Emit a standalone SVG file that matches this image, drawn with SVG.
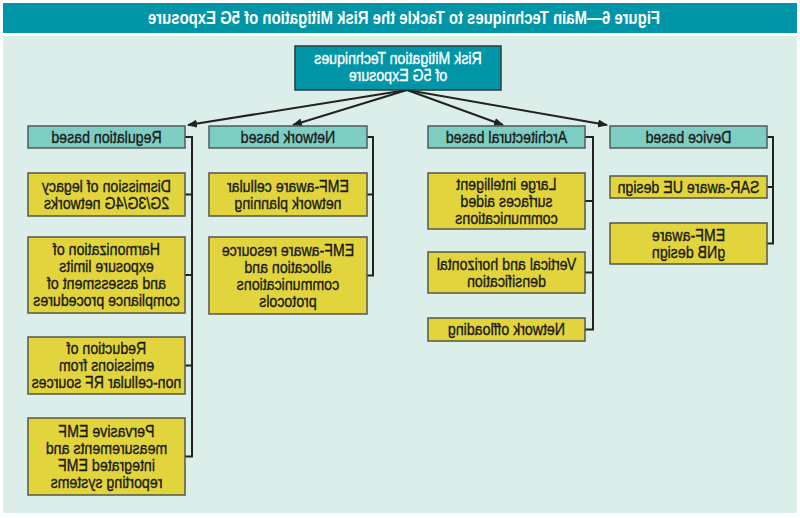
<svg xmlns="http://www.w3.org/2000/svg" width="800" height="518" viewBox="0 0 800 518">
<style>
text{font-family:"Liberation Sans",Arial,sans-serif;font-size:16.5px;text-anchor:middle;fill:#1a1a1a;stroke:#1a1a1a;stroke-width:0.35;transform-box:fill-box;transform-origin:center;transform:scaleX(0.86)}
.title{font-weight:bold;font-size:19px;fill:#ffffff;stroke:none;transform:none}
.root rect{fill:#0096a8;stroke:#2b3a3c;stroke-width:1.5}
.root text{fill:#ffffff;stroke:#ffffff}
.cat rect{fill:#7dcdc2;stroke:#4d5c5c;stroke-width:1.5}
.sub rect{fill:#e2d43c;stroke:#55574a;stroke-width:1.5}
.conn path{fill:none;stroke:#222222;stroke-width:2}
</style>
<defs>
<marker id="ah" markerWidth="10" markerHeight="8" refX="9" refY="4" orient="auto" markerUnits="userSpaceOnUse">
<path d="M0,0 L10,4 L0,8 z" fill="#222222"/>
</marker>
</defs>
<rect x="0" y="0" width="800" height="518" fill="#ffffff"/>
<g transform="matrix(-1 0 0 1 800 0)">
<rect x="3" y="3" width="794" height="30" fill="#0096a8"/>
<rect x="3" y="36" width="794" height="477" fill="#dceee9"/>
<text class="title" x="396" y="24" textLength="512" lengthAdjust="spacingAndGlyphs">Figure 6—Main Techniques to Tackle the Risk Mitigation of 5G Exposure</text>

<g id="connectors" class="conn">
<path d="M393,90 L612,125" marker-end="url(#ah)"/>
<path d="M393,90 L507,125" marker-end="url(#ah)"/>
<path d="M393,90 L297,125" marker-end="url(#ah)"/>
<path d="M393,90 L193,125" marker-end="url(#ah)"/>
<path d="M615,137 H608 V456.5 H615 M608,194.5 H615 M608,275 H615 M608,365.5 H615"/>
<path d="M433,137 H427 V275.5 H433 M427,194.5 H433"/>
<path d="M215,137 H207 V329.5 H215 M207,201 H215 M207,272.5 H215"/>
<path d="M33,137 H27 V243.5 H33 M27,187 H33"/>
</g>

<g id="root" class="root">
<rect x="299" y="46" width="206" height="44"/>
<text x="402" y="64.5">Risk Mitigation Techniques</text>
<text x="402" y="81.5">of 5G Exposure</text>
</g>

<g id="cat-regulation" class="cat">
<rect x="615" y="126" width="157" height="22"/>
<text x="693.5" y="143">Regulation based</text>
</g>
<g id="cat-network" class="cat">
<rect x="433" y="126" width="158" height="22"/>
<text x="512" y="143">Network based</text>
</g>
<g id="cat-architectural" class="cat">
<rect x="215" y="126" width="157" height="22"/>
<text x="293.5" y="143">Architectural based</text>
</g>
<g id="cat-device" class="cat">
<rect x="33" y="126" width="157" height="22"/>
<text x="111.5" y="143">Device based</text>
</g>

<g id="reg-dismission" class="sub">
<rect x="615" y="173" width="157" height="43"/>
<text x="693.5" y="192">Dismission of legacy</text>
<text x="693.5" y="209">2G/3G/4G networks</text>
</g>
<g id="reg-harmonization" class="sub">
<rect x="615" y="237" width="157" height="76"/>
<text x="693.5" y="255.5">Harmonization of</text>
<text x="693.5" y="272.5">exposure limits</text>
<text x="693.5" y="289.5">and assessment of</text>
<text x="693.5" y="306.5">compliance procedures</text>
</g>
<g id="reg-reduction" class="sub">
<rect x="615" y="337" width="157" height="57"/>
<text x="693.5" y="354.5">Reduction of</text>
<text x="693.5" y="371.5">emissions from</text>
<text x="693.5" y="388.5">non-cellular RF sources</text>
</g>
<g id="reg-pervasive" class="sub">
<rect x="615" y="418" width="157" height="77"/>
<text x="693.5" y="437">Pervasive EMF</text>
<text x="693.5" y="454">measurements and</text>
<text x="693.5" y="471">integrated EMF</text>
<text x="693.5" y="488">reporting systems</text>
</g>

<g id="net-planning" class="sub">
<rect x="433" y="173" width="158" height="43"/>
<text x="512" y="192">EMF-aware cellular</text>
<text x="512" y="209">network planning</text>
</g>
<g id="net-resource" class="sub">
<rect x="433" y="237" width="158" height="77"/>
<text x="512" y="256">EMF-aware resource</text>
<text x="512" y="273">allocation and</text>
<text x="512" y="290">communications</text>
<text x="512" y="307">protocols</text>
</g>

<g id="arch-lis" class="sub">
<rect x="215" y="173" width="157" height="56"/>
<text x="293.5" y="190">Large intelligent</text>
<text x="293.5" y="207">surfaces aided</text>
<text x="293.5" y="224">communications</text>
</g>
<g id="arch-densification" class="sub">
<rect x="215" y="252" width="157" height="41"/>
<text x="293.5" y="270">Vertical and horizontal</text>
<text x="293.5" y="287">densification</text>
</g>
<g id="arch-offloading" class="sub">
<rect x="215" y="318" width="157" height="23"/>
<text x="293.5" y="335.5">Network offloading</text>
</g>

<g id="dev-sar" class="sub">
<rect x="33" y="176" width="157" height="22"/>
<text x="111.5" y="193">SAR-aware UE design</text>
</g>
<g id="dev-gnb" class="sub">
<rect x="33" y="223" width="157" height="41"/>
<text x="111.5" y="241">EMF-aware</text>
<text x="111.5" y="258">gNB design</text>
</g>
</g>
</svg>
